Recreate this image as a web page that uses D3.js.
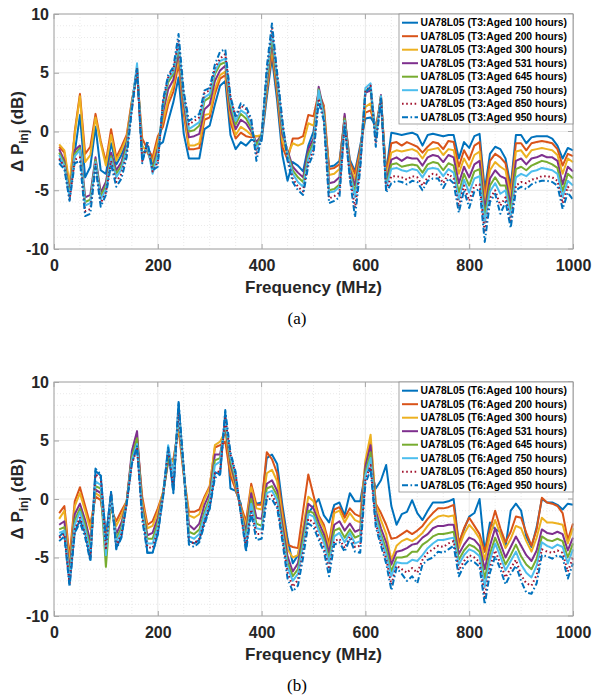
<!DOCTYPE html>
<html>
<head>
<meta charset="utf-8">
<script src="https://cdn.jsdelivr.net/npm/d3@7"></script>
<style>
  body { margin: 0; background: #fff; }
  svg text { font-family: "Liberation Sans", Arial, sans-serif; }
</style>
</head>
<body>
<div id="wrapper"></div>
<script>
// sampled every 10 MHz
const freq = d3.range(10, 1001, 10);
const hours = ["100", "200", "300", "531", "645", "750", "850", "950"];
const colors = ["#0072BD", "#D95319", "#EDB120", "#7E2F8E", "#77AC30", "#4DBEEE", "#A2142F", "#0072BD"];
const dashes = [null, null, null, null, null, null, "1.6,2.6", "6,2.5,1.6,2.5"];
const xTicks = [0, 200, 400, 600, 800, 1000];
const yTicks = [-10, -5, 0, 5, 10];

// (a) T3
const t3_100 = [-2.4,-2.8,-5.5,-1.8,1.4,-3.9,-3.0,0.4,-3.3,-3.6, -1.0,-2.8,-2.0,-0.8,2.4,5.4,-2.2,-1.3,-2.3,-1.2,
  -0.9,0.9,2.5,4.6,-0.2,-2.3,-2.3,-2.3,0.2,0.5, 2.3,3.9,4.3,-0.3,-1.5,-0.9,-1.2,-0.7,-0.8,-0.8,
  2.9,6.3,2.6,-2.0,-4.2,-2.6,-2.9,-3.4,-1.2,0.0, 3.3,1.5,-3.0,-2.9,-2.5,1.0,-2.4,-3.4,-1.2,1.1,
  1.2,0.5,2.2,-3.5,-0.1,-0.2,-0.3,-0.2,-0.1,-0.3, -1.2,-0.3,-0.2,-0.3,-0.4,-0.3,-0.3,-2.3,-0.9,-1.4,
  -0.4,-0.2,-5.0,-1.9,-1.3,-1.5,-2.3,-4.7,-0.3,-0.3, -1.0,-0.5,-0.4,-0.4,-0.4,-0.6,-1.2,-2.3,-1.4,-1.6];
const t3_200 = [-1.3,-1.8,-4.8,0.0,3.2,-1.9,-1.3,1.5,-0.8,-2.6, 0.2,-2.2,-1.3,-0.3,2.6,4.9,-0.6,-1.5,-2.2,-0.4,
  0.4,2.3,3.4,5.8,1.5,-1.5,-1.5,-1.4,1.0,1.2, 3.2,4.5,4.8,0.8,-0.6,-0.1,-0.4,-0.5,-0.4,-0.4,
  3.3,6.8,3.2,-1.3,-2.4,-0.6,-0.6,-0.4,1.4,1.3, 3.3,2.2,-3.2,-3.1,-2.8,1.3,-2.6,-3.6,-1.5,1.6,
  1.8,0.3,2.8,-3.6,-1.0,-0.9,-1.2,-0.9,-1.1,-1.3, -1.8,-1.3,-0.9,-1.0,-1.5,-0.8,-0.9,-3.0,-1.6,-2.4,
  -1.2,-0.9,-5.5,-2.5,-1.9,-2.2,-2.7,-5.1,-1.0,-1.0, -1.6,-1.0,-0.9,-0.8,-0.9,-1.0,-1.5,-2.9,-1.9,-2.1];
const t3_300 = [-1.1,-1.6,-4.5,-0.2,3.0,-2.6,-2.0,1.2,-1.0,-2.9, -0.3,-2.5,-1.6,-0.5,2.5,5.1,-1.2,-1.8,-2.6,-0.8,
  0.9,2.7,3.9,6.3,2.0,-1.2,-1.2,-1.0,1.4,1.5, 3.6,4.8,5.1,1.3,-0.3,0.4,0.1,-0.3,-0.4,-0.3,
  3.6,7.2,3.6,-0.8,-2.0,-1.0,-1.2,-1.0,0.7,0.5, 3.0,2.0,-3.7,-3.6,-3.2,1.2,-2.9,-4.1,-1.8,2.1,
  2.4,0.0,3.0,-3.9,-1.8,-1.6,-1.7,-1.6,-1.5,-1.7, -2.3,-1.6,-1.5,-1.4,-2.0,-1.5,-1.6,-3.6,-2.3,-3.1,
  -2.0,-1.7,-6.0,-3.3,-2.6,-3.0,-3.3,-5.6,-1.7,-1.6, -2.2,-1.6,-1.5,-1.4,-1.5,-1.6,-2.0,-3.6,-2.3,-2.6];
const t3_531 = [-1.5,-2.5,-5.2,-1.6,-1.2,-5.6,-5.4,-2.2,-5.2,-4.3, -1.8,-3.3,-2.6,-1.0,2.3,5.3,-1.8,-1.6,-3.0,-1.5,
  1.6,3.6,4.4,6.8,2.4,-0.5,-0.4,-0.2,1.9,2.3, 4.3,5.2,5.6,1.8,0.2,1.0,0.7,0.0,-0.9,-0.3,
  4.0,7.7,4.0,-0.2,-1.6,-3.0,-3.5,-3.9,-1.5,-0.6, 3.8,1.7,-4.4,-4.3,-3.9,1.5,-3.2,-4.6,-2.1,3.3,
  3.5,-0.3,3.1,-4.3,-2.4,-2.2,-2.5,-2.2,-2.3,-2.3, -2.9,-2.2,-2.0,-2.1,-2.6,-2.0,-2.2,-4.4,-3.0,-3.9,
  -2.8,-2.5,-6.6,-4.0,-3.3,-3.8,-4.0,-6.2,-2.5,-2.3, -2.8,-2.3,-2.2,-2.0,-2.2,-2.2,-2.5,-4.5,-3.0,-3.4];
const t3_645 = [-1.8,-2.7,-5.4,-1.9,-1.4,-6.0,-5.8,-2.4,-5.5,-4.6, -2.1,-3.6,-2.9,-1.3,2.2,5.5,-2.0,-1.4,-3.2,-1.8,
  2.0,4.2,4.9,7.2,2.8,0.0,0.1,0.5,2.6,2.9, 4.9,5.7,5.9,2.3,0.6,1.5,1.1,0.3,-1.2,-0.3,
  4.4,8.0,4.3,0.2,-1.8,-3.3,-3.9,-4.3,-1.9,-0.9, 3.6,1.4,-5.0,-4.9,-4.5,1.1,-3.4,-5.2,-2.4,3.5,
  3.7,-0.5,3.0,-4.6,-2.8,-2.7,-3.0,-2.9,-2.8,-2.9, -3.5,-2.8,-2.6,-2.7,-3.3,-2.7,-2.9,-5.2,-3.6,-4.6,
  -3.4,-3.2,-7.2,-4.6,-3.9,-4.6,-4.6,-6.8,-3.2,-3.0, -3.3,-2.9,-2.7,-2.5,-2.6,-2.8,-3.1,-5.1,-3.6,-4.0];
const t3_750 = [-2.0,-2.9,-5.6,-2.1,-1.6,-6.3,-6.1,-2.6,-5.8,-4.9, -2.3,-3.9,-3.2,-1.6,2.1,5.8,-2.3,-1.2,-3.6,-2.0,
  2.3,4.5,5.1,7.5,3.0,0.2,0.5,0.8,2.9,3.2, 5.1,6.0,6.2,2.6,0.9,1.8,1.5,0.6,-1.6,-0.4,
  4.8,8.5,4.6,0.5,-2.0,-3.6,-4.3,-4.7,-2.3,-1.2, 3.5,1.2,-5.2,-5.1,-4.7,0.9,-3.6,-5.6,-2.7,3.7,
  4.1,-0.7,3.0,-4.8,-3.2,-3.1,-3.3,-3.4,-3.2,-3.3, -3.9,-3.2,-3.1,-3.2,-3.8,-3.2,-3.5,-5.8,-4.1,-5.2,
  -4.0,-3.8,-7.8,-5.1,-4.4,-5.3,-5.0,-7.3,-3.9,-3.6, -3.8,-3.4,-3.3,-3.1,-3.2,-3.3,-3.6,-5.6,-4.2,-4.6];
const t3_850 = [-2.3,-3.0,-5.8,-2.4,-2.2,-6.8,-6.6,-2.8,-6.1,-5.2, -2.5,-4.3,-3.6,-1.9,1.9,5.4,-2.5,-1.0,-3.4,-2.6,
  2.5,4.6,5.3,7.7,3.2,0.6,0.9,1.2,3.3,3.5, 5.4,6.2,6.6,2.9,1.2,2.2,1.9,0.9,-2.0,-0.4,
  5.1,8.8,4.8,0.8,-2.3,-4.0,-4.7,-5.1,-2.6,-1.6, 2.8,1.0,-5.7,-5.5,-5.2,0.7,-3.8,-6.5,-3.0,3.4,
  3.9,-1.0,2.9,-5.0,-3.8,-3.8,-3.9,-4.1,-3.8,-3.9, -4.6,-3.9,-3.6,-3.7,-4.4,-3.6,-4.0,-6.4,-4.6,-5.9,
  -4.6,-4.5,-8.6,-5.7,-5.0,-6.3,-5.6,-7.8,-4.6,-4.3, -4.4,-4.1,-4.0,-3.8,-3.8,-3.9,-4.2,-6.1,-4.7,-5.2];
const t3_950 = [-2.7,-3.2,-5.9,-2.7,-2.5,-7.2,-7.0,-3.0,-6.4,-5.4, -2.8,-4.7,-4.0,-2.2,1.8,5.3,-2.7,-0.8,-3.3,-3.0,
  2.7,4.8,5.5,8.3,3.4,0.9,1.2,1.5,3.5,3.7, 5.7,6.8,7.0,3.0,1.3,2.4,2.1,1.1,-2.5,-0.5,
  5.5,9.2,5.0,1.0,-2.5,-4.3,-5.0,-5.4,-2.9,-1.9, 2.5,0.9,-6.1,-5.9,-5.6,0.5,-4.0,-7.3,-3.2,3.3,
  3.8,-1.3,2.8,-5.2,-4.4,-4.2,-4.3,-4.5,-4.2,-4.3, -5.0,-4.2,-4.0,-4.0,-4.8,-4.0,-4.4,-6.9,-5.0,-6.5,
  -5.1,-4.9,-9.4,-6.0,-5.3,-7.0,-6.0,-8.2,-5.0,-4.7, -4.9,-4.5,-4.3,-4.2,-4.2,-4.3,-4.6,-6.6,-5.2,-5.8];

// (b) T6
const t6_100 = [-3.2,-2.8,-7.2,-2.8,-1.8,-2.9,-5.2,2.4,2.0,-3.3, 0.6,-4.2,-3.2,-0.3,3.2,4.4,-0.8,-4.6,-4.6,-3.0,
  0.4,4.2,0.6,8.2,2.4,-3.6,-3.8,-3.5,-1.9,-0.8, 2.3,2.1,7.4,0.9,0.7,-0.4,-4.3,0.0,-0.4,-0.3,
  3.5,3.8,3.0,-0.5,-3.4,-5.5,-4.8,-2.5,-1.2,-0.6, 0.0,-1.4,-2.0,-0.5,-0.3,-1.4,0.5,-0.2,-0.2,2.3,
  2.6,0.9,1.6,2.9,-0.6,-2.2,-1.3,-1.1,-0.1,-1.2, -1.8,-1.0,-0.3,-0.3,-0.3,-0.2,0.0,-3.8,-2.6,-1.5,
  -1.2,0.0,-4.5,-2.0,-2.6,-2.8,-4.1,-1.0,-0.4,-1.0, -3.2,-4.1,-2.4,0.0,-0.3,-0.3,-0.5,-0.9,-0.4,-0.5];
const t6_200 = [-1.2,-0.6,-5.0,-0.2,1.0,-0.6,-2.2,0.2,-0.1,-3.0, -0.9,-1.9,-1.0,-0.2,3.7,5.0,0.2,-2.2,-1.9,-0.8,
  0.5,3.4,3.4,6.0,2.0,-1.1,-1.1,-0.9,0.2,1.1, 4.4,4.6,4.9,2.0,0.8,-0.6,-1.9,1.3,-0.5,-0.5,
  4.0,3.4,2.2,-1.0,-3.9,-4.1,-4.2,-1.0,2.1,0.3, -1.4,-2.2,-3.8,-0.9,-0.7,-1.6,-0.8,-1.3,-1.5,3.0,
  5.0,-0.4,-1.2,-2.2,-3.4,-3.3,-3.0,-2.7,-3.0,-2.7, -2.3,-1.7,-1.2,-0.8,-0.8,-0.7,-0.5,-3.8,-2.5,-1.6,
  -2.3,-3.0,-4.5,-2.6,-1.0,-2.5,-3.7,-2.8,-1.5,-1.6, -2.9,-4.0,-2.6,0.1,-0.3,-0.4,-0.6,-1.2,-3.5,-2.1];
const t6_300 = [-1.7,-1.0,-5.6,-0.6,0.5,-1.0,-2.6,0.5,0.2,-3.5, -0.6,-2.3,-1.4,-0.2,3.6,5.2,-0.2,-2.5,-2.3,-1.1,
  0.6,3.3,3.2,6.3,2.2,-1.4,-1.6,-1.3,0.0,1.0, 4.6,4.9,5.8,2.6,1.0,-0.8,-2.3,1.0,-0.8,-0.9,
  2.2,2.5,1.5,-1.5,-4.3,-5.0,-4.8,-2.4,0.2,-0.2, -1.6,-2.5,-4.2,-1.2,-1.0,-2.0,-1.2,-1.8,-2.0,3.3,
  5.5,-0.5,-1.8,-3.0,-5.2,-4.0,-3.6,-3.4,-3.6,-3.3, -2.9,-2.3,-1.8,-1.5,-1.4,-1.5,-1.4,-4.2,-3.0,-2.2,
  -2.7,-3.4,-5.2,-3.1,-1.8,-3.0,-4.2,-3.4,-2.3,-2.5, -3.6,-4.5,-3.3,-1.6,-2.0,-2.0,-2.1,-2.2,-3.8,-2.5];
const t6_531 = [-2.2,-1.9,-6.2,-1.3,-0.4,-1.8,-3.6,0.8,0.5,-4.2, -0.2,-3.0,-2.0,-0.3,4.1,5.8,-0.6,-3.1,-2.9,-1.6,
  0.4,3.2,2.8,6.8,2.3,-2.2,-2.6,-2.1,-0.5,0.5, 3.8,3.8,6.2,3.0,1.3,-1.0,-2.8,0.5,-1.6,-1.7,
  1.3,1.6,0.7,-2.2,-4.9,-6.2,-5.5,-3.0,-0.4,-0.8, -2.0,-3.0,-4.6,-2.2,-1.9,-2.7,-2.1,-2.8,-2.6,2.8,
  4.6,-1.0,-2.5,-3.7,-5.6,-4.5,-4.4,-4.2,-3.9,-3.8, -3.3,-3.0,-2.5,-2.3,-2.3,-2.2,-2.2,-4.7,-3.9,-3.3,
  -3.5,-4.0,-6.0,-4.0,-2.5,-3.8,-5.0,-4.1,-3.2,-4.0, -4.8,-5.3,-4.4,-2.6,-2.9,-3.0,-2.8,-3.0,-4.4,-3.3];
const t6_645 = [-2.6,-2.4,-6.6,-1.8,-0.8,-2.2,-4.2,1.1,0.9,-5.8, 0.0,-3.4,-2.4,-0.3,3.6,5.2,-0.9,-3.4,-3.4,-2.0,
  0.3,3.5,2.4,7.0,2.4,-2.8,-3.0,-2.6,-1.1,0.1, 3.3,3.5,6.4,3.3,1.6,-1.1,-3.2,0.0,-2.1,-2.3,
  0.9,1.1,0.3,-2.7,-5.4,-6.6,-6.0,-3.5,-1.0,-1.2, -2.4,-3.4,-5.1,-2.7,-2.5,-3.3,-2.6,-3.3,-3.1,2.3,
  4.0,-1.4,-3.0,-4.3,-6.2,-5.0,-5.0,-4.9,-4.5,-4.5, -3.9,-3.6,-3.2,-3.0,-3.0,-2.9,-2.8,-5.2,-4.4,-3.9,
  -4.1,-4.5,-6.8,-4.7,-3.3,-4.4,-5.6,-4.8,-3.9,-4.9, -5.6,-6.0,-5.1,-3.2,-3.5,-3.6,-3.4,-3.6,-5.0,-3.8];
const t6_750 = [-2.9,-2.7,-6.9,-2.2,-1.1,-2.6,-4.6,1.5,1.2,-4.8, 0.2,-3.7,-2.7,-0.4,3.3,4.7,-1.2,-3.8,-3.8,-2.4,
  0.2,4.6,2.0,7.2,2.5,-3.2,-3.4,-3.0,-1.4,-0.2, 2.9,3.2,6.7,3.6,1.9,-1.2,-3.6,-0.4,-2.5,-2.6,
  0.5,0.7,-0.1,-3.0,-5.8,-7.0,-6.4,-4.0,-1.3,-1.5, -2.7,-3.7,-5.5,-3.2,-2.9,-3.7,-2.9,-3.8,-3.6,2.0,
  3.5,-1.7,-3.3,-4.7,-6.6,-5.4,-5.5,-5.5,-5.2,-5.3, -4.8,-4.2,-3.8,-3.5,-3.5,-3.4,-3.3,-5.6,-4.8,-4.3,
  -4.5,-4.9,-7.5,-5.2,-3.8,-4.9,-6.1,-5.3,-4.5,-5.6, -6.3,-6.7,-5.7,-3.7,-4.0,-4.2,-3.9,-4.1,-5.5,-4.3];
const t6_850 = [-3.3,-3.0,-7.2,-2.6,-1.6,-3.0,-5.0,2.1,1.8,-4.2, 0.4,-4.0,-3.0,-0.4,3.0,4.3,-1.5,-4.1,-4.2,-2.7,
  0.2,4.2,1.0,7.4,2.6,-3.6,-3.8,-3.4,-1.9,-0.5, 2.2,2.4,6.9,3.8,2.1,-1.3,-4.0,-0.9,-3.0,-3.0,
  0.2,0.3,-0.5,-3.3,-6.3,-7.5,-6.9,-4.5,-1.7,-2.0, -3.2,-4.2,-6.0,-3.6,-3.4,-4.2,-3.2,-4.1,-4.0,1.6,
  2.9,-2.1,-3.7,-5.1,-7.3,-5.7,-6.0,-6.3,-5.9,-6.3, -5.2,-4.6,-4.3,-4.0,-4.1,-3.8,-3.6,-6.1,-5.3,-4.8,
  -5.0,-5.4,-8.4,-5.8,-4.4,-5.5,-6.7,-5.9,-5.2,-6.5, -7.2,-7.4,-6.5,-4.3,-4.5,-4.6,-4.4,-4.6,-6.2,-5.0];
const t6_950 = [-3.6,-3.2,-7.5,-2.9,-2.0,-3.3,-5.3,2.6,2.1,-3.4, 0.6,-4.3,-3.3,-0.4,3.0,4.5,-1.8,-4.6,-4.6,-3.0,
  0.1,4.4,0.5,8.3,2.7,-3.9,-4.1,-3.7,-2.2,-0.8, 1.8,2.1,7.6,4.0,2.3,-1.3,-4.5,-1.2,-3.5,-3.4,
  0.0,0.0,-0.8,-3.6,-6.8,-7.9,-7.4,-5.0,-2.1,-2.4, -3.5,-4.5,-6.6,-3.9,-3.7,-4.5,-3.4,-4.5,-4.6,1.3,
  2.5,-2.4,-4.0,-5.5,-7.8,-5.9,-6.4,-7.0,-6.6,-7.2, -5.6,-5.2,-5.0,-4.5,-4.6,-4.3,-4.0,-6.6,-5.7,-5.2,
  -5.4,-5.8,-9.0,-6.3,-4.9,-6.0,-7.3,-6.4,-5.7,-7.0, -8.0,-8.1,-7.2,-4.8,-4.9,-5.1,-4.8,-5.0,-6.8,-5.5];

const t3Series = [t3_100, t3_200, t3_300, t3_531, t3_645, t3_750, t3_850, t3_950];
const t6Series = [t6_100, t6_200, t6_300, t6_531, t6_645, t6_750, t6_850, t6_950];

const W = 593, H = 698;
const svg = d3.select("#wrapper").append("svg").attr("width", W).attr("height", H);
const x = d3.scaleLinear().domain([0, 1000]).range([54, 573]);

function panel(top, bottom, series, tag, letter, letterY) {
  const y = d3.scaleLinear().domain([-10, 10]).range([bottom, top]);
  const g = svg.append("g");

  // minor grid
  const minorX = d3.range(0, 1001, 50).filter(d => d % 200 !== 0);
  const minorY = d3.range(-10, 11, 1).filter(d => d % 5 !== 0);
  g.selectAll(".mx").data(minorX).enter().append("line")
    .attr("x1", d => x(d)).attr("x2", d => x(d)).attr("y1", top).attr("y2", bottom)
    .attr("stroke", "#e4e4e4").attr("stroke-width", 0.8).attr("stroke-dasharray", "1,2");
  g.selectAll(".my").data(minorY).enter().append("line")
    .attr("x1", x(0)).attr("x2", x(1000)).attr("y1", d => y(d)).attr("y2", d => y(d))
    .attr("stroke", "#e4e4e4").attr("stroke-width", 0.8).attr("stroke-dasharray", "1,2");
  // major grid
  g.selectAll(".gx").data(xTicks).enter().append("line")
    .attr("x1", d => x(d)).attr("x2", d => x(d)).attr("y1", top).attr("y2", bottom)
    .attr("stroke", "#e2e2e2").attr("stroke-width", 0.8);
  g.selectAll(".gy").data(yTicks).enter().append("line")
    .attr("x1", x(0)).attr("x2", x(1000)).attr("y1", d => y(d)).attr("y2", d => y(d))
    .attr("stroke", "#e2e2e2").attr("stroke-width", 0.8);

  // lines
  const line = d3.line().x((d, i) => x(freq[i])).y(d => y(d));
  const plot = g.append("g");
  series.forEach((s, k) => {
    plot.append("path").datum(s)
      .attr("d", line)
      .attr("fill", "none")
      .attr("stroke", colors[k])
      .attr("stroke-width", 2)
      .attr("stroke-linejoin", "round")
      .attr("stroke-dasharray", dashes[k]);
  });

  // box
  g.append("rect").attr("x", x(0)).attr("y", top)
    .attr("width", x(1000) - x(0)).attr("height", bottom - top)
    .attr("fill", "none").attr("stroke", "#a6a6a6").attr("stroke-width", 1);

  // axes (plain hyphen minus, no thousands comma)
  const fmt = d => String(d);
  const xAxis = d3.axisBottom(x).tickValues(xTicks).tickFormat(fmt).tickSize(-5).tickPadding(8);
  const xg = g.append("g").attr("transform", "translate(0," + bottom + ")").call(xAxis);
  const yAxis = d3.axisLeft(y).tickValues(yTicks).tickFormat(fmt).tickSize(-5).tickPadding(5);
  const yg = g.append("g").attr("transform", "translate(" + x(0) + ",0)").call(yAxis);
  [xg, yg].forEach(a => {
    a.select(".domain").remove();
    a.selectAll("line").attr("stroke", "#a6a6a6");
    a.selectAll("text").attr("fill", "#262626").style("font-size", "16px").style("font-weight", "bold");
  });
  xg.selectAll("text").attr("dy", "0.9em");
  // top / right ticks
  g.selectAll(".tt").data(xTicks).enter().append("line")
    .attr("x1", d => x(d)).attr("x2", d => x(d)).attr("y1", top).attr("y2", top + 5)
    .attr("stroke", "#a6a6a6");
  g.selectAll(".tr").data(yTicks).enter().append("line")
    .attr("x1", x(1000)).attr("x2", x(1000) - 5).attr("y1", d => y(d)).attr("y2", d => y(d))
    .attr("stroke", "#a6a6a6");

  // axis titles
  g.append("text").attr("x", (x(0) + x(1000)) / 2).attr("y", bottom + 44)
    .attr("text-anchor", "middle").attr("fill", "#262626")
    .style("font-size", "17px").style("font-weight", "bold").text("Frequency (MHz)");
  const yt = g.append("text")
    .attr("transform", "translate(23," + y(0) + ") rotate(-90)")
    .attr("text-anchor", "middle").attr("fill", "#262626")
    .style("font-size", "17px").style("font-weight", "bold");
  yt.append("tspan").text("\u0394 P");
  yt.append("tspan").attr("dy", 5).style("font-size", "12px").text("inj");
  yt.append("tspan").attr("dy", -5).text(" (dB)");

  // legend
  const lg = g.append("g").attr("transform", "translate(399," + top + ")");
  lg.append("rect").attr("width", 174).attr("height", 110)
    .attr("fill", "#fff").attr("stroke", "#8c8c8c").attr("stroke-width", 0.8);
  hours.forEach((h, k) => {
    const yy = 8.7 + k * 13.5;
    lg.append("line").attr("x1", 3).attr("x2", 19).attr("y1", yy).attr("y2", yy)
      .attr("stroke", colors[k]).attr("stroke-width", 2).attr("stroke-dasharray", dashes[k]);
    lg.append("text").attr("x", 21.5).attr("y", yy).attr("dy", "0.36em")
      .attr("fill", "#000").style("font-size", "10.3px").style("font-weight", "bold")
      .text("UA78L05 (" + tag + ":Aged " + h + " hours)");
  });

  // panel letter
  svg.append("text").attr("x", 297).attr("y", letterY).attr("text-anchor", "middle")
    .style("font-family", "'Liberation Serif', 'Times New Roman', serif").style("font-size", "17px")
    .attr("fill", "#000").text(letter);
}

panel(14, 249, t3Series, "T3", "(a)", 324);
panel(382, 616, t6Series, "T6", "(b)", 691);
</script>
</body>
</html>
